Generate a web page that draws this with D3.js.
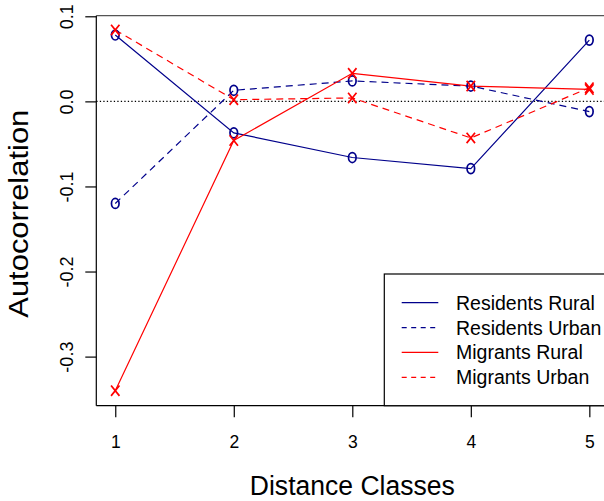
<!DOCTYPE html>
<html>
<head>
    <meta charset="utf-8">
    <style>
        body { margin: 0; background: #fff; }
        svg text { font-family: "Liberation Sans", Arial, sans-serif; fill: #000; }
    </style>
</head>
<body>
    <div id="chart"></div>

    <script src="https://d3js.org/d3.v7.min.js"></script>
    <script>
        // Data
        const classes = [1, 2, 3, 4, 5];
        const residentsRural = [0.078, -0.037, -0.066, -0.079, 0.072];
        const residentsUrban = [-0.120, 0.013, 0.024, 0.018, -0.012];
        const migrantsRural = [-0.340, -0.046, 0.033, 0.018, 0.014];
        const migrantsUrban = [0.084, 0.002, 0.004, -0.043, 0.016];
        const yTicks = [-0.3, -0.2, -0.1, 0.0, 0.1];
        const yTickLabels = ["-0.3", "-0.2", "-0.1", "0.0", "0.1"];
        const seriesNames = ["Residents Rural", "Residents Urban", "Migrants Rural", "Migrants Urban"];

        const blue = "#00008B";
        const red = "#ff0000";

        const series = [
            { name: seriesNames[0], values: residentsRural, color: blue, dash: null, mark: "o" },
            { name: seriesNames[1], values: residentsUrban, color: blue, dash: "7,5", mark: "o" },
            { name: seriesNames[2], values: migrantsRural, color: red, dash: null, mark: "x" },
            { name: seriesNames[3], values: migrantsUrban, color: red, dash: "7,5", mark: "x" }
        ];

        const width = 604, height = 501;
        const box = { left: 96.3, right: 608.3, top: 15.7, bottom: 405.7 };

        const svg = d3.select("#chart")
            .append("svg")
            .attr("width", width)
            .attr("height", height);

        // R style: data range padded 4% each side
        const x = d3.scaleLinear().domain([0.84, 5.16]).range([box.left, box.right]);
        const y = d3.scaleLinear().domain([-0.3577, 0.1007]).range([box.bottom, box.top]);

        // zero line
        svg.append("line")
            .attr("x1", box.left).attr("x2", box.right)
            .attr("y1", y(0)).attr("y2", y(0))
            .attr("stroke", "#000")
            .attr("stroke-width", 1.2)
            .attr("stroke-dasharray", "1.3,2.2");

        // series lines
        const line = d3.line()
            .x((d, i) => x(classes[i]))
            .y(d => y(d));

        svg.selectAll(".series")
            .data(series)
            .enter()
            .append("path")
            .attr("class", "series")
            .attr("d", d => line(d.values))
            .attr("fill", "none")
            .attr("stroke", d => d.color)
            .attr("stroke-width", 1.2)
            .attr("stroke-dasharray", d => d.dash);

        // markers
        series.forEach(s => {
            const g = svg.append("g");
            s.values.forEach((v, i) => {
                const cx = x(classes[i]), cy = y(v);
                if (s.mark === "o") {
                    g.append("ellipse")
                        .attr("cx", cx).attr("cy", cy)
                        .attr("rx", 3.8).attr("ry", 5)
                        .attr("fill", "none")
                        .attr("stroke", s.color)
                        .attr("stroke-width", 1.7);
                } else {
                    g.append("path")
                        .attr("d", `M${cx - 4.2},${cy - 5.2}L${cx + 4.2},${cy + 5.2}M${cx - 4.2},${cy + 5.2}L${cx + 4.2},${cy - 5.2}`)
                        .attr("stroke", s.color)
                        .attr("stroke-width", 1.7);
                }
            });
        });

        // plot frame (right side lies outside the window)
        svg.append("line")
            .attr("x1", box.left).attr("x2", box.right)
            .attr("y1", box.top).attr("y2", box.top)
            .attr("stroke", "#555").attr("stroke-width", 1.3);
        svg.append("line")
            .attr("x1", box.left).attr("x2", box.left)
            .attr("y1", box.top).attr("y2", box.bottom)
            .attr("stroke", "#000").attr("stroke-width", 1.2);
        svg.append("line")
            .attr("x1", box.left).attr("x2", box.right)
            .attr("y1", box.bottom).attr("y2", box.bottom)
            .attr("stroke", "#000").attr("stroke-width", 1.2);

        // x axis
        const xAxis = svg.append("g")
            .attr("transform", `translate(0,${box.bottom})`)
            .call(d3.axisBottom(x).tickValues(classes).tickSize(11.5).tickPadding(18).tickFormat(d3.format("d")));
        xAxis.select(".domain").remove();
        xAxis.selectAll("line").attr("stroke", "#000").attr("stroke-width", 1.2);
        xAxis.selectAll("text").attr("font-size", 17.5).attr("font-family", "Liberation Sans, Arial, sans-serif");

        // y axis (labels rotated like R's default las = 0)
        const yAxis = svg.append("g")
            .attr("transform", `translate(${box.left},0)`)
            .call(d3.axisLeft(y).tickValues(yTicks).tickSize(11).tickFormat((d, i) => yTickLabels[i]));
        yAxis.select(".domain").remove();
        yAxis.selectAll("line").attr("stroke", "#000").attr("stroke-width", 1.2);
        yAxis.selectAll("text")
            .attr("font-size", 18)
            .attr("font-family", "Liberation Sans, Arial, sans-serif")
            .attr("x", null).attr("dy", null).attr("y", 0)
            .attr("text-anchor", "middle")
            .attr("transform", `translate(${72.5 - box.left},0) rotate(-90)`);

        // axis titles
        svg.append("text")
            .attr("x", (box.left + box.right) / 2)
            .attr("y", 495)
            .attr("text-anchor", "middle")
            .attr("font-size", 27)
            .attr("textLength", 205)
            .attr("lengthAdjust", "spacingAndGlyphs")
            .text("Distance Classes");

        svg.append("text")
            .attr("transform", `translate(28,${(box.top + box.bottom) / 2 + 3}) rotate(-90)`)
            .attr("text-anchor", "middle")
            .attr("font-size", 28)
            .attr("textLength", 208)
            .attr("lengthAdjust", "spacingAndGlyphs")
            .text("Autocorrelation");

        // legend
        const legend = svg.append("g");
        legend.append("rect")
            .attr("x", 384.3).attr("y", 274)
            .attr("width", box.right - 384.3).attr("height", box.bottom - 274)
            .attr("fill", "#fff")
            .attr("stroke", "#000").attr("stroke-width", 1.2);

        const rowY = d3.scalePoint().domain(seriesNames).range([302.7, 377.3]);
        const rows = legend.selectAll(".row")
            .data(series)
            .enter()
            .append("g")
            .attr("transform", d => `translate(0,${rowY(d.name)})`);
        rows.append("line")
            .attr("x1", 401.7).attr("x2", 438.3)
            .attr("stroke", d => d.color)
            .attr("stroke-width", 1.2)
            .attr("stroke-dasharray", d => d.dash ? "5,4.5" : null);
        rows.append("text")
            .attr("x", 456)
            .attr("y", 7)
            .attr("font-size", 19.5)
            .text(d => d.name);
    </script>
</body>
</html>
